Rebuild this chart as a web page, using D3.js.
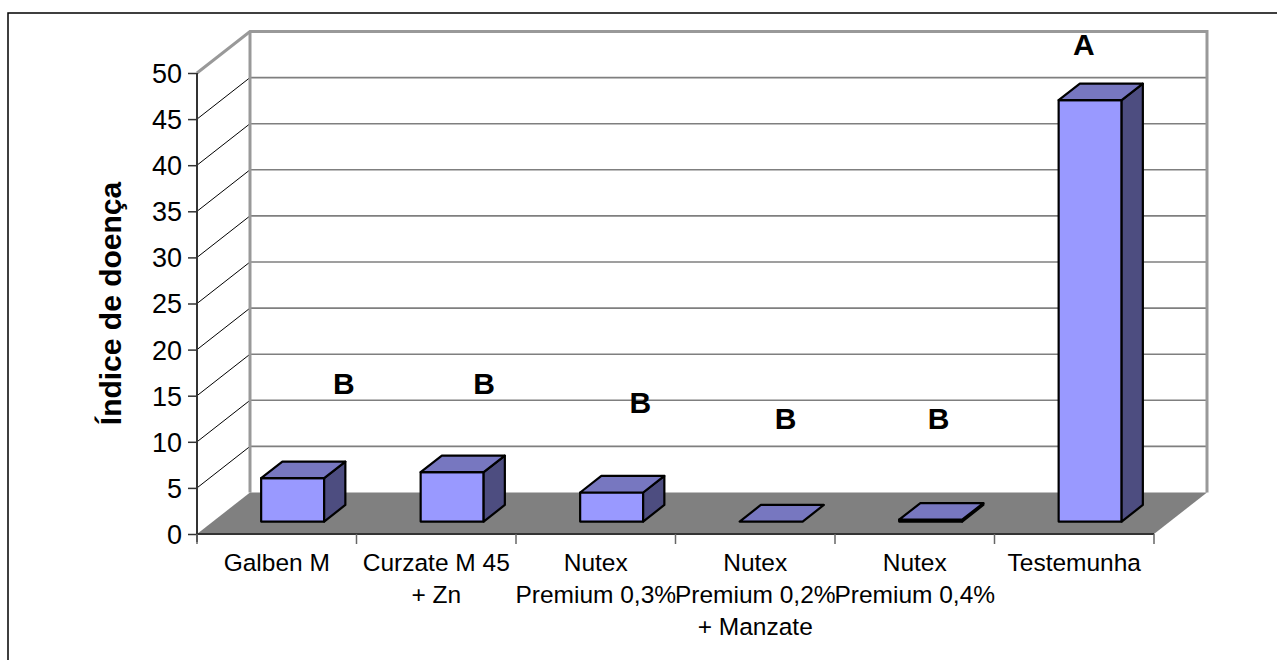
<!DOCTYPE html>
<html>
<head>
<meta charset="utf-8">
<script src="https://cdn.jsdelivr.net/npm/d3@7"></script>
<style>
  html, body { margin: 0; padding: 0; background: #fff; }
  svg { display: block; }
  text { font-family: "Liberation Sans", Arial, sans-serif; }
</style>
</head>
<body>
<svg id="chart" width="1277" height="660"></svg>
<script>
// ---- data ----
const categories = [
  ["Galben M"],
  ["Curzate M 45", "+ Zn"],
  ["Nutex", "Premium 0,3%"],
  ["Nutex", "Premium 0,2%", "+ Manzate"],
  ["Nutex", "Premium 0,4%"],
  ["Testemunha"]
];
const values = [4.7, 5.35, 3.15, 0, 0.2, 45.7];
const letters = ["B", "B", "B", "B", "B", "A"];
const yTicks = [0, 5, 10, 15, 20, 25, 30, 35, 40, 45, 50];
const yTitle = "Índice de doença";

// ---- layout ----
const svg = d3.select("#chart");
const W = 1277, H = 660;
const X0 = 197, X1 = 1154, Y0 = 534, Y1 = 73;
const DX = 53, DY = 41.5;           // depth offset
const dFront = 0.3, dBack = 0.7;    // bar depth span
const barFrac = 0.395;

const idx = categories.map((d, i) => i);
const x = d3.scaleBand().domain(idx).range([X0, X1]).padding(0);
const y = d3.scaleLinear().domain([0, 50]).range([Y0, Y1]);
const bw = x.bandwidth();

// letter placement (layout only): shift across band, value height of baseline
const letterShift = [0.42, 0.30, 0.28, 0.19, 0.15, 0.06];
const letterLevel = [15.2, 15.2, 13.1, 11.4, 11.4, 52.0];

// outer frame
svg.append("rect").attr("x", 8).attr("y", 13).attr("width", W + 20).attr("height", H + 20)
  .attr("fill", "none").attr("stroke", "#000").attr("stroke-width", 1.5);

const pt = (p) => p.map(q => q.join(",")).join(" ");

// side wall (left)
svg.append("polygon")
  .attr("points", pt([[X0, y(50)], [X0 + DX, y(50) - DY], [X0 + DX, y(0) - DY], [X0, y(0)]]))
  .attr("fill", "#fff");
// back wall
svg.append("rect").attr("x", X0 + DX).attr("y", y(50) - DY)
  .attr("width", X1 - X0).attr("height", y(0) - y(50)).attr("fill", "#fff");

// gridlines
const gridTicks = yTicks.filter(t => t > 0 && t < 50);
svg.append("g").selectAll("line.back").data(gridTicks).join("line")
  .attr("x1", X0 + DX).attr("x2", X1 + DX)
  .attr("y1", d => y(d) - DY).attr("y2", d => y(d) - DY)
  .attr("stroke", "#7f7f7f").attr("stroke-width", 1.6);
svg.append("g").selectAll("line.side").data(gridTicks).join("line")
  .attr("x1", X0).attr("x2", X0 + DX)
  .attr("y1", d => y(d)).attr("y2", d => y(d) - DY)
  .attr("stroke", "#000").attr("stroke-width", 1);

// wall borders
svg.append("path")
  .attr("d", `M${X0},${y(50)} L${X0 + DX},${y(50) - DY} L${X1 + DX},${y(50) - DY} L${X1 + DX},${y(0) - DY}`)
  .attr("fill", "none").attr("stroke", "#999").attr("stroke-width", 3);
svg.append("line").attr("x1", X0 + DX).attr("x2", X0 + DX)
  .attr("y1", y(50) - DY).attr("y2", y(0) - DY)
  .attr("stroke", "#999").attr("stroke-width", 3);

// floor
svg.append("polygon")
  .attr("points", pt([[X0, y(0)], [X1, y(0)], [X1 + DX, y(0) - DY], [X0 + DX, y(0) - DY]]))
  .attr("fill", "#808080");

// bars
const colFront = "#9999ff", colTop = "#7777c0", colSide = "#4d4d80";
const gBars = svg.append("g");
categories.forEach((c, i) => {
  const v = values[i];
  const xl = x(i) + (bw - bw * barFrac) / 2 + dFront * DX;
  const xr = xl + bw * barFrac;
  const yb = y(0) - dFront * DY;
  const yt = y(v) - dFront * DY;
  const ddx = (dBack - dFront) * DX, ddy = (dBack - dFront) * DY;
  const g = gBars.append("g").attr("stroke", "#000").attr("stroke-width", 2.2)
    .attr("stroke-linejoin", "round");
  if (v > 0) {
    g.append("polygon").attr("points", pt([[xl, yt], [xr, yt], [xr, yb], [xl, yb]])).attr("fill", colFront);
    g.append("polygon").attr("points", pt([[xr, yt], [xr + ddx, yt - ddy], [xr + ddx, yb - ddy], [xr, yb]])).attr("fill", colSide);
  }
  g.append("polygon").attr("points", pt([[xl, yt], [xr, yt], [xr + ddx, yt - ddy], [xl + ddx, yt - ddy]])).attr("fill", colTop);
});

// axes lines
svg.append("line").attr("x1", X0).attr("x2", X0).attr("y1", y(50)).attr("y2", y(0) + 8)
  .attr("stroke", "#333").attr("stroke-width", 2);
svg.append("line").attr("x1", X0).attr("x2", X1).attr("y1", y(0)).attr("y2", y(0))
  .attr("stroke", "#333").attr("stroke-width", 2);

// y axis ticks & labels
const yAxis = d3.axisLeft(y).tickValues(yTicks).tickSize(9).tickPadding(6);
const gy = svg.append("g").attr("transform", `translate(${X0},0)`).call(yAxis);
gy.select(".domain").remove();
gy.selectAll(".tick line").attr("stroke", "#333").attr("stroke-width", 1.5);
gy.selectAll(".tick text").attr("font-size", 27).attr("fill", "#000")
  .attr("font-family", "'Liberation Sans', Arial, sans-serif").attr("dy", "0.35em");

// x category ticks
const bounds = d3.range(categories.length + 1).map(i => X0 + i * bw);
svg.append("g").selectAll("line").data(bounds).join("line")
  .attr("x1", d => d).attr("x2", d => d).attr("y1", y(0)).attr("y2", y(0) + 10)
  .attr("stroke", "#666").attr("stroke-width", 1.5);

// category labels
const gx = svg.append("g");
categories.forEach((lines, i) => {
  const t = gx.append("text").attr("x", x(i) + bw / 2).attr("y", 571)
    .attr("text-anchor", "middle").attr("font-size", 24.5).attr("fill", "#000");
  lines.forEach((ln, j) => {
    t.append("tspan").attr("x", x(i) + bw / 2).attr("dy", j === 0 ? 0 : 32).text(ln);
  });
});

// letters
svg.append("g").selectAll("text").data(letters).join("text")
  .attr("x", (d, i) => x(i) + bw / 2 + letterShift[i] * bw)
  .attr("y", (d, i) => y(letterLevel[i]))
  .attr("text-anchor", "middle").attr("font-size", 30).attr("font-weight", "bold")
  .attr("fill", "#000").text(d => d);

// y title
svg.append("text").attr("transform", `translate(121,${(y(0) + y(50)) / 2}) rotate(-90)`)
  .attr("text-anchor", "middle").attr("font-size", 30).attr("font-weight", "bold")
  .attr("fill", "#000").text(yTitle);
</script>
</body>
</html>
